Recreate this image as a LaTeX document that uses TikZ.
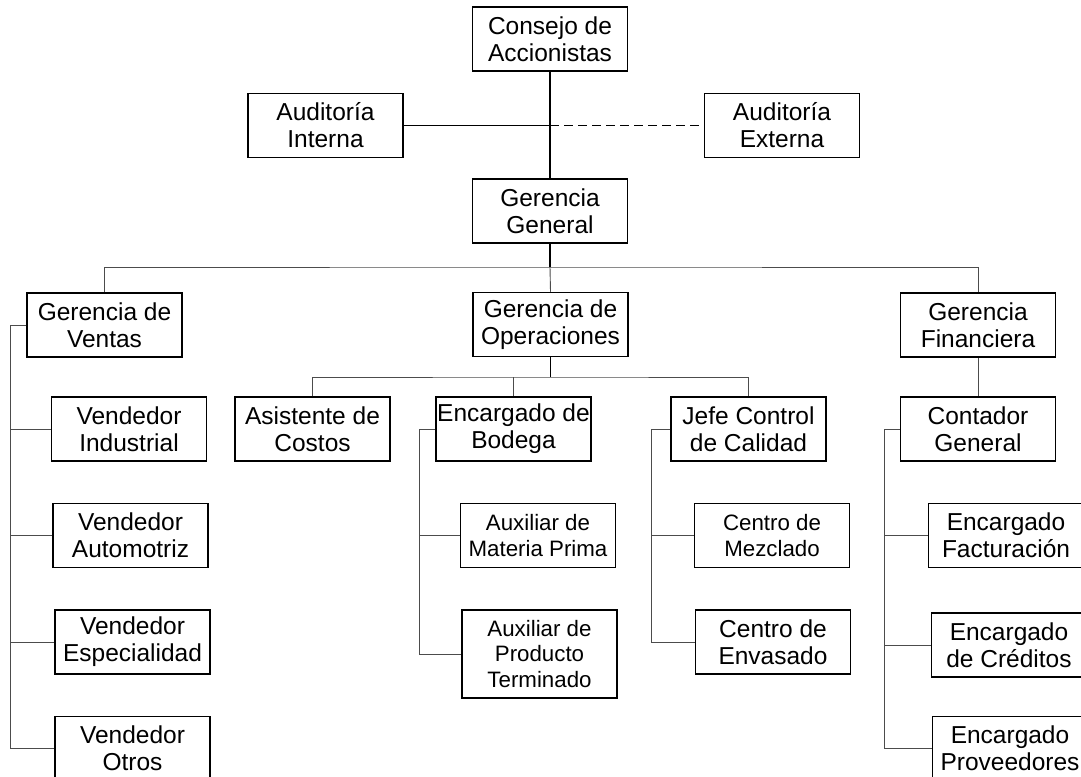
\documentclass[tikz,border=0pt]{standalone}
\usepackage{fontspec}
\setmainfont{Liberation Sans}
\usepackage{tikz}
\usetikzlibrary{positioning}

\begin{document}
\begin{tikzpicture}[x=1pt, y=-1pt, node distance=41pt,
    box/.style={draw, line width=1.5pt, minimum width=155pt, minimum height=64pt, inner sep=1pt, align=center, font=\fontsize{24.5}{27}\selectfont},
    smallbox/.style={box, font=\fontsize{22.3}{25.5}\selectfont},
    link/.style={draw=black!70, line width=0.9pt},
    main/.style={draw=black, line width=1.5pt}]
    \useasboundingbox[fill=white] (0,0) rectangle (1081,776);
    \node [box] (cons) at (550,39) {Consejo de\\Accionistas};
    \node [box] (ai) at (325.5,125.5) {Auditoría\\Interna};
    \node [box] (ae) at (782,125.5) {Auditoría\\Externa};
    \node [box] (gg) at (550,211) {Gerencia\\General};
    \node [box] (gv) at (104.5,325) {Gerencia de\\Ventas};
    \node [box] (go) at (550.5,324.5) {Gerencia de\\Operaciones};
    \node [box] (gf) at (978,325) {Gerencia\\Financiera};
    \node [box] (ac) at (312.5,429) {Asistente de\\Costos};
    \node [box] (eb) at (513.5,429) {Encargado de\\Bodega};
    \node [box] (jc) at (748.5,429) {Jefe Control\\de Calidad};
    \node [box] (cg) at (978,429) {Contador\\General};
    \node [box] (vi) at (129,429) {Vendedor\\Industrial};
    \node [box] (va) [below=of vi, xshift=1.5pt] {Vendedor\\Automotriz};
    \node [box] (ve) [below=of va, xshift=2pt] {Vendedor\\Especialidad};
    \node [box] (vo) [below=of ve] {Vendedor\\Otros};
    \node [smallbox] (amp) [below=of eb, xshift=24.5pt] {Auxiliar de\\Materia Prima};
    \node [smallbox, minimum height=88pt] (apt) [below=of amp, xshift=1.5pt] {Auxiliar de\\Producto\\Terminado};
    \node [smallbox] (cm) [below=of jc, xshift=23.5pt] {Centro de\\Mezclado};
    \node [box] (cen) [below=of cm, xshift=1pt] {Centro de\\Envasado};
    \node [box] (ef) [below=of cg, xshift=28pt] {Encargado\\Facturación};
    \node [box] (ec) [below=44pt of ef, xshift=3pt] {Encargado\\de Créditos};
    \node [box] (ep) [below=38pt of ec, xshift=1pt] {Encargado\\Proveedores};
    \coordinate (mid) at (cons.south |- ai.east);
    \coordinate (bus) at (550,267);
    \coordinate (obus) at (550.5,377);
    \coordinate (vbar) at (10,0);
    \coordinate (bbar) at (419,0);
    \coordinate (cbar) at (651,0);
    \coordinate (fbar) at (884,0);
    \draw [main] (cons.south) -- (gg.north);
    \draw [main] (ai.east) -- (mid);
    \draw [main, dash pattern=on 9pt off 5pt] (mid) -- (ae.west);
    \draw [main] (gg.south) -- (bus);
    \draw [link] (gv.north) |- (bus) -| (gf.north);
    \draw [link] (bus) -- (go.north);
    \draw [main] (go.south) -- (obus);
    \draw [link] (ac.north) |- (obus) -| (jc.north);
    \draw [link] (eb.north |- obus) -- (eb.north);
    \draw [link] (gf.south) -- (cg.north);
    \draw [link] (gv.west) -| (vbar |- vo.west) -- (vo.west);
    \foreach \n in {vi,va,ve}
        \draw [link] (\n.west) -- (vbar |- \n.west);
    \draw [link] (eb.west) -| (bbar |- apt.west) -- (apt.west);
    \draw [link] (amp.west) -- (bbar |- amp.west);
    \draw [link] (jc.west) -| (cbar |- cen.west) -- (cen.west);
    \draw [link] (cm.west) -- (cbar |- cm.west);
    \draw [link] (cg.west) -| (fbar |- ep.west) -- (ep.west);
    \foreach \n in {ef,ec}
        \draw [link] (\n.west) -- (fbar |- \n.west);
\end{tikzpicture}
\end{document}
